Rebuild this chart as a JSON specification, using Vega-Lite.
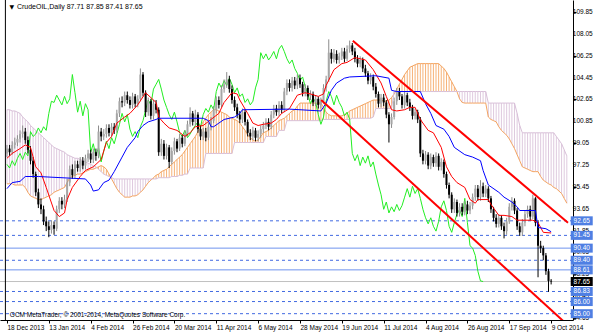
{
"$schema":"https://vega.github.io/schema/vega-lite/v6.json",
"width":573,"height":320,"padding":{"left":0,"top":0,"right":27,"bottom":13},"autosize":{"type":"none"},
"background":"white",
"config":{"view":{"stroke":null},"font":"Liberation Sans","axis":{"labelOverlap":false,"labelSeparation":0,"labelBound":false,"labelFlush":false}},
"datasets":{
"bars":[
{"i":0,"o":98.2,"h":98.9,"l":97.9,"c":98.6},{"i":1,"o":98.6,"h":98.9,"l":98.0,"c":98.3},{"i":2,"o":98.3,"h":99.2,"l":98.1,"c":98.9},{"i":3,"o":98.9,"h":99.5,"l":98.6,"c":99.1},{"i":4,"o":99.1,"h":99.7,"l":98.8,"c":99.4},{"i":5,"o":99.4,"h":100.1,"l":99.1,"c":99.8},{"i":6,"o":99.8,"h":100.5,"l":99.5,"c":100.0},{"i":7,"o":100.0,"h":100.3,"l":99.0,"c":99.3},{"i":8,"o":99.3,"h":99.6,"l":98.2,"c":98.5},{"i":9,"o":98.5,"h":98.8,"l":97.3,"c":97.6},
{"i":10,"o":97.6,"h":97.9,"l":96.2,"c":96.5},{"i":11,"o":96.5,"h":96.7,"l":94.7,"c":95.0},{"i":12,"o":95.0,"h":95.3,"l":93.7,"c":94.0},{"i":13,"o":94.0,"h":94.5,"l":93.2,"c":93.6},{"i":14,"o":93.6,"h":93.9,"l":92.3,"c":92.6},{"i":15,"o":92.6,"h":93.0,"l":91.8,"c":92.2},{"i":16,"o":92.2,"h":92.6,"l":91.3,"c":91.9},{"i":17,"o":91.9,"h":92.7,"l":91.6,"c":92.3},{"i":18,"o":92.3,"h":92.6,"l":91.5,"c":92.0},{"i":19,"o":92.0,"h":93.9,"l":91.8,"c":93.6},
{"i":20,"o":93.6,"h":94.6,"l":93.3,"c":94.3},{"i":21,"o":94.3,"h":94.6,"l":93.6,"c":94.0},{"i":22,"o":94.0,"h":94.8,"l":93.7,"c":94.4},{"i":23,"o":94.4,"h":96.1,"l":94.2,"c":95.8},{"i":24,"o":95.8,"h":97.2,"l":95.5,"c":96.9},{"i":25,"o":96.9,"h":97.3,"l":96.1,"c":96.4},{"i":26,"o":96.4,"h":97.6,"l":96.1,"c":97.3},{"i":27,"o":97.3,"h":97.6,"l":96.7,"c":97.0},{"i":28,"o":97.0,"h":97.9,"l":96.7,"c":97.6},{"i":29,"o":97.6,"h":97.9,"l":96.9,"c":97.2},
{"i":30,"o":97.2,"h":98.1,"l":96.9,"c":97.8},{"i":31,"o":97.8,"h":98.5,"l":97.5,"c":98.2},{"i":32,"o":98.2,"h":98.5,"l":97.4,"c":97.7},{"i":33,"o":97.7,"h":98.6,"l":97.4,"c":98.3},{"i":34,"o":98.3,"h":98.6,"l":97.6,"c":98.0},{"i":35,"o":98.0,"h":100.5,"l":97.8,"c":100.0},{"i":36,"o":100.0,"h":100.3,"l":99.2,"c":99.6},{"i":37,"o":99.6,"h":100.2,"l":99.3,"c":99.8},{"i":38,"o":99.8,"h":100.6,"l":99.5,"c":100.3},{"i":39,"o":100.3,"h":100.6,"l":99.6,"c":99.9},
{"i":40,"o":99.9,"h":100.7,"l":99.6,"c":100.4},{"i":41,"o":100.4,"h":100.7,"l":99.8,"c":100.1},{"i":42,"o":100.1,"h":101.8,"l":99.9,"c":101.5},{"i":43,"o":101.5,"h":102.8,"l":101.2,"c":102.5},{"i":44,"o":102.5,"h":102.9,"l":102.0,"c":102.4},{"i":45,"o":102.4,"h":103.3,"l":102.1,"c":103.0},{"i":46,"o":103.0,"h":103.3,"l":102.3,"c":102.6},{"i":47,"o":102.6,"h":102.9,"l":101.9,"c":102.2},{"i":48,"o":102.2,"h":103.2,"l":101.9,"c":102.9},{"i":49,"o":102.9,"h":103.1,"l":102.0,"c":102.3},
{"i":50,"o":102.3,"h":103.0,"l":102.0,"c":102.7},{"i":51,"o":102.7,"h":105.2,"l":102.5,"c":104.7},{"i":52,"o":104.7,"h":104.9,"l":102.9,"c":103.2},{"i":53,"o":103.2,"h":103.4,"l":101.2,"c":101.6},{"i":54,"o":101.6,"h":102.8,"l":101.3,"c":102.5},{"i":55,"o":102.5,"h":102.7,"l":101.0,"c":101.3},{"i":56,"o":101.3,"h":102.6,"l":101.0,"c":102.3},{"i":57,"o":102.3,"h":102.6,"l":101.5,"c":101.8},{"i":58,"o":101.8,"h":102.0,"l":98.0,"c":98.3},{"i":59,"o":98.3,"h":99.4,"l":98.0,"c":99.0},
{"i":60,"o":99.0,"h":99.3,"l":97.7,"c":98.0},{"i":61,"o":98.0,"h":99.0,"l":97.7,"c":98.7},{"i":62,"o":98.7,"h":98.9,"l":97.0,"c":97.5},{"i":63,"o":97.5,"h":98.7,"l":97.3,"c":98.4},{"i":64,"o":98.4,"h":99.5,"l":98.1,"c":99.2},{"i":65,"o":99.2,"h":99.4,"l":98.3,"c":98.6},{"i":66,"o":98.6,"h":99.8,"l":98.4,"c":99.5},{"i":67,"o":99.5,"h":99.7,"l":98.7,"c":99.0},{"i":68,"o":99.0,"h":100.1,"l":98.8,"c":99.8},{"i":69,"o":99.8,"h":100.9,"l":99.6,"c":100.6},
{"i":70,"o":100.6,"h":102.0,"l":100.4,"c":101.5},{"i":71,"o":101.5,"h":101.7,"l":100.5,"c":100.8},{"i":72,"o":100.8,"h":101.8,"l":100.5,"c":101.4},{"i":73,"o":101.4,"h":101.6,"l":99.9,"c":100.2},{"i":74,"o":100.2,"h":100.5,"l":99.3,"c":99.6},{"i":75,"o":99.6,"h":100.3,"l":99.3,"c":100.0},{"i":76,"o":100.0,"h":100.3,"l":99.2,"c":99.5},{"i":77,"o":99.5,"h":100.7,"l":99.3,"c":100.4},{"i":78,"o":100.4,"h":101.2,"l":100.1,"c":100.9},{"i":79,"o":100.9,"h":102.1,"l":100.7,"c":101.8},
{"i":80,"o":101.8,"h":102.9,"l":101.5,"c":102.6},{"i":81,"o":102.6,"h":102.9,"l":101.9,"c":102.2},{"i":82,"o":102.2,"h":103.8,"l":102.0,"c":103.5},{"i":83,"o":103.5,"h":104.3,"l":103.2,"c":103.9},{"i":84,"o":103.9,"h":104.9,"l":103.6,"c":104.3},{"i":85,"o":104.3,"h":104.6,"l":103.2,"c":103.5},{"i":86,"o":103.5,"h":103.8,"l":102.3,"c":102.6},{"i":87,"o":102.6,"h":102.9,"l":101.7,"c":102.0},{"i":88,"o":102.0,"h":102.3,"l":101.1,"c":101.4},{"i":89,"o":101.4,"h":101.7,"l":100.7,"c":101.0},
{"i":90,"o":101.0,"h":101.9,"l":100.7,"c":101.6},{"i":91,"o":101.6,"h":101.8,"l":100.5,"c":100.8},{"i":92,"o":100.8,"h":101.0,"l":99.6,"c":99.9},{"i":93,"o":99.9,"h":100.2,"l":99.3,"c":99.6},{"i":94,"o":99.6,"h":100.4,"l":99.3,"c":100.1},{"i":95,"o":100.1,"h":100.3,"l":99.2,"c":99.5},{"i":96,"o":99.5,"h":100.1,"l":99.2,"c":99.8},{"i":97,"o":99.8,"h":100.5,"l":99.5,"c":100.2},{"i":98,"o":100.2,"h":100.8,"l":99.9,"c":100.5},{"i":99,"o":100.5,"h":101.1,"l":100.2,"c":100.8},
{"i":100,"o":100.8,"h":101.1,"l":100.1,"c":100.4},{"i":101,"o":100.4,"h":101.7,"l":100.2,"c":101.4},{"i":102,"o":101.4,"h":102.2,"l":101.1,"c":101.9},{"i":103,"o":101.9,"h":102.2,"l":101.3,"c":101.6},{"i":104,"o":101.6,"h":102.5,"l":101.3,"c":102.2},{"i":105,"o":102.2,"h":102.5,"l":101.5,"c":101.8},{"i":106,"o":101.8,"h":103.6,"l":101.6,"c":103.3},{"i":107,"o":103.3,"h":104.3,"l":103.0,"c":104.0},{"i":108,"o":104.0,"h":104.3,"l":103.3,"c":103.6},{"i":109,"o":103.6,"h":104.5,"l":103.3,"c":104.2},
{"i":110,"o":104.2,"h":104.5,"l":103.5,"c":103.8},{"i":111,"o":103.8,"h":104.7,"l":103.5,"c":104.4},{"i":112,"o":104.4,"h":104.7,"l":103.6,"c":103.9},{"i":113,"o":103.9,"h":104.1,"l":102.9,"c":103.2},{"i":114,"o":103.2,"h":103.9,"l":102.9,"c":103.6},{"i":115,"o":103.6,"h":103.8,"l":102.6,"c":102.9},{"i":116,"o":102.9,"h":103.4,"l":102.6,"c":103.1},{"i":117,"o":103.1,"h":103.3,"l":102.1,"c":102.4},{"i":118,"o":102.4,"h":103.0,"l":102.1,"c":102.7},{"i":119,"o":102.7,"h":102.9,"l":101.9,"c":102.2},
{"i":120,"o":102.2,"h":102.8,"l":101.9,"c":102.5},{"i":121,"o":102.5,"h":103.9,"l":102.3,"c":103.6},{"i":122,"o":103.6,"h":104.6,"l":103.3,"c":104.3},{"i":123,"o":104.3,"h":107.6,"l":104.1,"c":106.5},{"i":124,"o":106.5,"h":106.8,"l":105.6,"c":106.0},{"i":125,"o":106.0,"h":106.8,"l":105.7,"c":106.4},{"i":126,"o":106.4,"h":106.7,"l":105.6,"c":105.9},{"i":127,"o":105.9,"h":106.5,"l":105.6,"c":106.2},{"i":128,"o":106.2,"h":106.9,"l":105.9,"c":106.6},{"i":129,"o":106.6,"h":106.9,"l":105.7,"c":106.0},
{"i":130,"o":106.0,"h":107.1,"l":105.8,"c":106.8},{"i":131,"o":106.8,"h":107.5,"l":106.5,"c":107.1},{"i":132,"o":107.1,"h":107.3,"l":106.3,"c":106.6},{"i":133,"o":106.6,"h":106.9,"l":105.7,"c":106.0},{"i":134,"o":106.0,"h":106.3,"l":105.3,"c":105.6},{"i":135,"o":105.6,"h":106.2,"l":105.3,"c":105.9},{"i":136,"o":105.9,"h":106.1,"l":104.9,"c":105.2},{"i":137,"o":105.2,"h":105.5,"l":104.5,"c":104.8},{"i":138,"o":104.8,"h":105.0,"l":103.9,"c":104.2},{"i":139,"o":104.2,"h":104.8,"l":103.9,"c":104.5},
{"i":140,"o":104.5,"h":104.7,"l":103.4,"c":103.7},{"i":141,"o":103.7,"h":104.0,"l":102.8,"c":103.1},{"i":142,"o":103.1,"h":103.3,"l":102.0,"c":102.3},{"i":143,"o":102.3,"h":103.1,"l":102.0,"c":102.8},{"i":144,"o":102.8,"h":103.1,"l":102.1,"c":102.4},{"i":145,"o":102.4,"h":102.6,"l":101.1,"c":101.4},{"i":146,"o":101.4,"h":101.6,"l":99.1,"c":100.6},{"i":147,"o":100.6,"h":101.5,"l":100.3,"c":101.2},{"i":148,"o":101.2,"h":102.8,"l":101.0,"c":102.5},{"i":149,"o":102.5,"h":103.6,"l":102.2,"c":103.3},
{"i":150,"o":103.3,"h":103.6,"l":102.6,"c":102.9},{"i":151,"o":102.9,"h":103.1,"l":101.9,"c":102.2},{"i":152,"o":102.2,"h":103.3,"l":101.9,"c":103.0},{"i":153,"o":103.0,"h":103.2,"l":102.1,"c":102.4},{"i":154,"o":102.4,"h":102.7,"l":101.7,"c":102.0},{"i":155,"o":102.0,"h":102.2,"l":101.0,"c":101.3},{"i":156,"o":101.3,"h":101.9,"l":101.0,"c":101.6},{"i":157,"o":101.6,"h":101.8,"l":100.7,"c":101.0},{"i":158,"o":101.0,"h":101.2,"l":97.9,"c":98.2},{"i":159,"o":98.2,"h":98.5,"l":97.3,"c":97.6},
{"i":160,"o":97.6,"h":98.4,"l":97.3,"c":98.1},{"i":161,"o":98.1,"h":98.3,"l":96.9,"c":97.2},{"i":162,"o":97.2,"h":98.2,"l":96.9,"c":97.9},{"i":163,"o":97.9,"h":98.1,"l":97.1,"c":97.4},{"i":164,"o":97.4,"h":98.3,"l":97.1,"c":98.0},{"i":165,"o":98.0,"h":98.2,"l":96.8,"c":97.1},{"i":166,"o":97.1,"h":97.8,"l":96.8,"c":97.5},{"i":167,"o":97.5,"h":97.7,"l":96.2,"c":96.5},{"i":168,"o":96.5,"h":96.7,"l":95.3,"c":95.6},{"i":169,"o":95.6,"h":95.8,"l":94.5,"c":94.8},
{"i":170,"o":94.8,"h":95.0,"l":93.3,"c":93.6},{"i":171,"o":93.6,"h":94.5,"l":93.3,"c":94.2},{"i":172,"o":94.2,"h":94.4,"l":93.0,"c":93.3},{"i":173,"o":93.3,"h":94.1,"l":93.0,"c":93.8},{"i":174,"o":93.8,"h":94.1,"l":93.1,"c":93.4},{"i":175,"o":93.4,"h":94.3,"l":93.1,"c":94.0},{"i":176,"o":94.0,"h":94.3,"l":93.2,"c":93.5},{"i":177,"o":93.5,"h":94.2,"l":93.2,"c":93.9},{"i":178,"o":93.9,"h":94.9,"l":93.6,"c":94.6},{"i":179,"o":94.6,"h":95.6,"l":94.3,"c":95.3},
{"i":180,"o":95.3,"h":95.6,"l":94.3,"c":94.6},{"i":181,"o":94.6,"h":96.0,"l":94.3,"c":95.5},{"i":182,"o":95.5,"h":95.8,"l":94.6,"c":94.9},{"i":183,"o":94.9,"h":95.6,"l":94.6,"c":95.3},{"i":184,"o":95.3,"h":95.5,"l":94.2,"c":94.5},{"i":185,"o":94.5,"h":94.7,"l":93.3,"c":93.6},{"i":186,"o":93.6,"h":93.8,"l":92.6,"c":92.9},{"i":187,"o":92.9,"h":93.2,"l":92.1,"c":92.4},{"i":188,"o":92.4,"h":93.2,"l":92.1,"c":92.9},{"i":189,"o":92.9,"h":93.1,"l":91.9,"c":92.2},
{"i":190,"o":92.2,"h":92.5,"l":91.2,"c":91.8},{"i":191,"o":91.8,"h":92.9,"l":91.5,"c":92.6},{"i":192,"o":92.6,"h":94.1,"l":92.4,"c":93.8},{"i":193,"o":93.8,"h":94.6,"l":93.5,"c":94.3},{"i":194,"o":94.3,"h":94.5,"l":93.2,"c":93.5},{"i":195,"o":93.5,"h":93.7,"l":91.9,"c":92.2},{"i":196,"o":92.2,"h":92.5,"l":91.4,"c":91.7},{"i":197,"o":91.7,"h":92.8,"l":91.4,"c":92.5},{"i":198,"o":92.5,"h":93.5,"l":92.2,"c":93.2},{"i":199,"o":93.2,"h":93.9,"l":92.9,"c":93.6},
{"i":200,"o":93.6,"h":93.9,"l":92.7,"c":93.0},{"i":201,"o":93.0,"h":94.8,"l":92.8,"c":94.5},{"i":202,"o":94.5,"h":94.6,"l":92.2,"c":92.5},{"i":203,"o":92.5,"h":92.7,"l":88.0,"c":90.6},{"i":204,"o":90.6,"h":91.0,"l":90.0,"c":90.4},{"i":205,"o":90.4,"h":90.6,"l":89.4,"c":89.8},{"i":206,"o":89.8,"h":90.0,"l":88.2,"c":88.5},{"i":207,"o":88.5,"h":88.7,"l":86.8,"c":87.7},{"i":208,"o":87.71,"h":87.85,"l":87.41,"c":87.65}
],
"cloud":[
{"i":0,"a":95.7,"b":101.8},{"i":1,"a":95.7,"b":101.8},{"i":2,"a":95.7,"b":101.7},{"i":3,"a":95.6,"b":101.7},{"i":4,"a":95.6,"b":101.6},{"i":5,"a":95.6,"b":101.5},{"i":6,"a":95.6,"b":101.2},{"i":7,"a":95.4,"b":101.0},{"i":8,"a":95.0,"b":100.8},{"i":9,"a":94.7,"b":100.5},
{"i":10,"a":94.6,"b":100.3},{"i":11,"a":94.5,"b":100.1},{"i":12,"a":94.4,"b":99.9},{"i":13,"a":94.4,"b":99.7},{"i":14,"a":94.5,"b":99.5},{"i":15,"a":94.6,"b":99.3},{"i":16,"a":94.7,"b":99.1},{"i":17,"a":94.8,"b":98.9},{"i":18,"a":95.0,"b":98.7},{"i":19,"a":95.1,"b":98.6},
{"i":20,"a":95.2,"b":98.5},{"i":21,"a":95.3,"b":98.4},{"i":22,"a":95.4,"b":98.3},{"i":23,"a":95.8,"b":98.1},{"i":24,"a":96.2,"b":98.0},{"i":25,"a":96.3,"b":97.9},{"i":26,"a":96.4,"b":97.8},{"i":27,"a":96.5,"b":97.8},{"i":28,"a":96.5,"b":97.7},{"i":29,"a":96.6,"b":97.6},
{"i":30,"a":96.7,"b":97.5},{"i":31,"a":96.8,"b":97.4},{"i":32,"a":96.9,"b":97.3},{"i":33,"a":96.9,"b":97.2},{"i":34,"a":97.0,"b":97.1},{"i":35,"a":97.1,"b":96.9},{"i":36,"a":97.2,"b":96.7},{"i":37,"a":97.1,"b":96.5},{"i":38,"a":96.9,"b":96.4},{"i":39,"a":96.5,"b":96.3},
{"i":40,"a":96.1,"b":96.2},{"i":41,"a":95.7,"b":96.1},{"i":42,"a":95.3,"b":96.1},{"i":43,"a":95.0,"b":96.1},{"i":44,"a":94.8,"b":96.1},{"i":45,"a":94.6,"b":96.1},{"i":46,"a":94.6,"b":96.1},{"i":47,"a":94.6,"b":96.1},{"i":48,"a":94.7,"b":96.1},{"i":49,"a":94.7,"b":96.1},
{"i":50,"a":94.8,"b":96.1},{"i":51,"a":95.0,"b":96.1},{"i":52,"a":95.2,"b":96.1},{"i":53,"a":95.5,"b":96.1},{"i":54,"a":95.8,"b":96.1},{"i":55,"a":96.0,"b":96.1},{"i":56,"a":96.2,"b":96.1},{"i":57,"a":96.4,"b":96.1},{"i":58,"a":96.5,"b":96.2},{"i":59,"a":96.7,"b":96.2},
{"i":60,"a":96.8,"b":96.2},{"i":61,"a":96.9,"b":96.2},{"i":62,"a":97.1,"b":96.2},{"i":63,"a":97.3,"b":96.3},{"i":64,"a":97.5,"b":96.3},{"i":65,"a":97.7,"b":96.3},{"i":66,"a":97.9,"b":96.4},{"i":67,"a":98.1,"b":96.4},{"i":68,"a":98.4,"b":96.5},{"i":69,"a":98.7,"b":96.5},
{"i":70,"a":99.0,"b":97.0},{"i":71,"a":99.3,"b":97.0},{"i":72,"a":99.6,"b":97.0},{"i":73,"a":100.0,"b":97.0},{"i":74,"a":100.4,"b":97.0},{"i":75,"a":100.8,"b":97.0},{"i":76,"a":101.1,"b":98.2},{"i":77,"a":101.4,"b":98.2},{"i":78,"a":101.6,"b":98.2},{"i":79,"a":101.8,"b":98.2},
{"i":80,"a":101.8,"b":98.2},{"i":81,"a":101.7,"b":98.2},{"i":82,"a":101.6,"b":98.2},{"i":83,"a":101.5,"b":98.2},{"i":84,"a":101.4,"b":98.2},{"i":85,"a":101.2,"b":98.2},{"i":86,"a":101.1,"b":98.2},{"i":87,"a":101.0,"b":99.1},{"i":88,"a":100.9,"b":99.1},{"i":89,"a":100.7,"b":99.1},
{"i":90,"a":100.4,"b":99.1},{"i":91,"a":100.1,"b":99.1},{"i":92,"a":99.7,"b":99.1},{"i":93,"a":99.5,"b":99.1},{"i":94,"a":99.3,"b":99.1},{"i":95,"a":99.2,"b":99.1},{"i":96,"a":99.3,"b":99.1},{"i":97,"a":99.6,"b":99.1},{"i":98,"a":99.9,"b":99.1},{"i":99,"a":100.0,"b":99.6},
{"i":100,"a":100.1,"b":99.6},{"i":101,"a":100.3,"b":99.6},{"i":102,"a":100.5,"b":99.6},{"i":103,"a":100.7,"b":99.6},{"i":104,"a":100.9,"b":100.1},{"i":105,"a":101.0,"b":100.1},{"i":106,"a":101.1,"b":100.1},{"i":107,"a":101.3,"b":100.9},{"i":108,"a":101.5,"b":100.9},{"i":109,"a":101.7,"b":100.9},
{"i":110,"a":101.8,"b":100.9},{"i":111,"a":102.1,"b":100.9},{"i":112,"a":102.35,"b":100.9},{"i":113,"a":102.35,"b":100.9},{"i":114,"a":102.35,"b":100.9},{"i":115,"a":102.35,"b":100.9},{"i":116,"a":102.35,"b":100.9},{"i":117,"a":102.35,"b":100.9},{"i":118,"a":102.35,"b":100.9},{"i":119,"a":102.35,"b":100.9},
{"i":120,"a":102.35,"b":100.9},{"i":121,"a":102.0,"b":101.0},{"i":122,"a":101.6,"b":101.0},{"i":123,"a":101.4,"b":101.0},{"i":124,"a":101.3,"b":101.0},{"i":125,"a":101.3,"b":101.0},{"i":126,"a":101.3,"b":101.0},{"i":127,"a":101.3,"b":101.0},{"i":128,"a":101.3,"b":101.0},{"i":129,"a":101.4,"b":101.0},
{"i":130,"a":101.5,"b":101.0},{"i":131,"a":101.7,"b":101.0},{"i":132,"a":101.8,"b":101.1},{"i":133,"a":101.9,"b":101.1},{"i":134,"a":102.0,"b":101.1},{"i":135,"a":102.1,"b":101.1},{"i":136,"a":102.2,"b":101.1},{"i":137,"a":102.3,"b":101.1},{"i":138,"a":102.4,"b":101.1},{"i":139,"a":102.5,"b":101.1},
{"i":140,"a":102.6,"b":101.2},{"i":141,"a":102.6,"b":101.9},{"i":142,"a":102.6,"b":101.9},{"i":143,"a":102.6,"b":101.9},{"i":144,"a":102.5,"b":101.9},{"i":145,"a":102.5,"b":101.9},{"i":146,"a":102.6,"b":101.9},{"i":147,"a":102.8,"b":101.9},{"i":148,"a":103.1,"b":103.3},{"i":149,"a":103.5,"b":103.3},
{"i":150,"a":103.9,"b":103.3},{"i":151,"a":104.3,"b":103.3},{"i":152,"a":104.7,"b":103.3},{"i":153,"a":105.0,"b":103.3},{"i":154,"a":105.3,"b":103.3},{"i":155,"a":105.4,"b":103.3},{"i":156,"a":105.5,"b":103.3},{"i":157,"a":105.6,"b":103.3},{"i":158,"a":105.6,"b":103.3},{"i":159,"a":105.6,"b":103.3},
{"i":160,"a":105.6,"b":103.3},{"i":161,"a":105.6,"b":103.3},{"i":162,"a":105.6,"b":103.3},{"i":163,"a":105.6,"b":103.3},{"i":164,"a":105.6,"b":103.3},{"i":165,"a":105.6,"b":103.3},{"i":166,"a":105.4,"b":103.3},{"i":167,"a":105.2,"b":103.3},{"i":168,"a":104.9,"b":103.3},{"i":169,"a":104.5,"b":103.3},
{"i":170,"a":104.1,"b":103.3},{"i":171,"a":103.7,"b":103.3},{"i":172,"a":103.3,"b":103.3},{"i":173,"a":102.7,"b":103.3},{"i":174,"a":102.4,"b":103.3},{"i":175,"a":102.35,"b":103.3},{"i":176,"a":102.35,"b":103.3},{"i":177,"a":102.35,"b":103.3},{"i":178,"a":102.35,"b":103.3},{"i":179,"a":102.35,"b":103.3},
{"i":180,"a":102.35,"b":103.3},{"i":181,"a":102.35,"b":103.3},{"i":182,"a":102.35,"b":103.3},{"i":183,"a":102.35,"b":103.3},{"i":184,"a":101.2,"b":102.35},{"i":185,"a":101.0,"b":102.35},{"i":186,"a":100.9,"b":102.35},{"i":187,"a":100.8,"b":102.35},{"i":188,"a":100.4,"b":102.35},{"i":189,"a":100.1,"b":102.35},
{"i":190,"a":99.9,"b":102.35},{"i":191,"a":99.7,"b":102.35},{"i":192,"a":99.4,"b":102.35},{"i":193,"a":99.0,"b":102.35},{"i":194,"a":98.6,"b":102.35},{"i":195,"a":98.1,"b":101.5},{"i":196,"a":97.6,"b":100.5},{"i":197,"a":97.1,"b":99.9},{"i":198,"a":97.0,"b":99.9},{"i":199,"a":96.9,"b":99.9},
{"i":200,"a":96.8,"b":99.9},{"i":201,"a":96.7,"b":99.9},{"i":202,"a":96.7,"b":99.9},{"i":203,"a":96.7,"b":99.9},{"i":204,"a":96.3,"b":99.9},{"i":205,"a":96.0,"b":99.9},{"i":206,"a":95.85,"b":99.9},{"i":207,"a":95.7,"b":99.9},{"i":208,"a":95.6,"b":99.9},{"i":209,"a":95.4,"b":99.9},
{"i":210,"a":95.3,"b":99.6},{"i":211,"a":95.1,"b":99.3},{"i":212,"a":94.9,"b":99.0},{"i":213,"a":94.5,"b":98.5},{"i":214,"a":94.1,"b":98.0}
],
"chikou":[
{"i":0,"v":97.3},{"i":1,"v":97.0},{"i":2,"v":97.6},{"i":3,"v":97.2},{"i":4,"v":97.8},{"i":5,"v":98.2},{"i":6,"v":97.7},{"i":7,"v":98.3},{"i":8,"v":98.0},{"i":9,"v":100.0},
{"i":10,"v":99.6},{"i":11,"v":99.8},{"i":12,"v":100.3},{"i":13,"v":99.9},{"i":14,"v":100.4},{"i":15,"v":100.1},{"i":16,"v":101.5},{"i":17,"v":102.5},{"i":18,"v":102.4},{"i":19,"v":103.0},
{"i":20,"v":102.6},{"i":21,"v":102.2},{"i":22,"v":102.9},{"i":23,"v":102.3},{"i":24,"v":102.7},{"i":25,"v":104.7},{"i":26,"v":103.2},{"i":27,"v":101.6},{"i":28,"v":102.5},{"i":29,"v":101.3},
{"i":30,"v":102.3},{"i":31,"v":101.8},{"i":32,"v":98.3},{"i":33,"v":99.0},{"i":34,"v":98.0},{"i":35,"v":98.7},{"i":36,"v":97.5},{"i":37,"v":98.4},{"i":38,"v":99.2},{"i":39,"v":98.6},
{"i":40,"v":99.5},{"i":41,"v":99.0},{"i":42,"v":99.8},{"i":43,"v":100.6},{"i":44,"v":101.5},{"i":45,"v":100.8},{"i":46,"v":101.4},{"i":47,"v":100.2},{"i":48,"v":99.6},{"i":49,"v":100.0},
{"i":50,"v":99.5},{"i":51,"v":100.4},{"i":52,"v":100.9},{"i":53,"v":101.8},{"i":54,"v":102.6},{"i":55,"v":102.2},{"i":56,"v":103.5},{"i":57,"v":103.9},{"i":58,"v":104.3},{"i":59,"v":103.5},
{"i":60,"v":102.6},{"i":61,"v":102.0},{"i":62,"v":101.4},{"i":63,"v":101.0},{"i":64,"v":101.6},{"i":65,"v":100.8},{"i":66,"v":99.9},{"i":67,"v":99.6},{"i":68,"v":100.1},{"i":69,"v":99.5},
{"i":70,"v":99.8},{"i":71,"v":100.2},{"i":72,"v":100.5},{"i":73,"v":100.8},{"i":74,"v":100.4},{"i":75,"v":101.4},{"i":76,"v":101.9},{"i":77,"v":101.6},{"i":78,"v":102.2},{"i":79,"v":101.8},
{"i":80,"v":103.3},{"i":81,"v":104.0},{"i":82,"v":103.6},{"i":83,"v":104.2},{"i":84,"v":103.8},{"i":85,"v":104.4},{"i":86,"v":103.9},{"i":87,"v":103.2},{"i":88,"v":103.6},{"i":89,"v":102.9},
{"i":90,"v":103.1},{"i":91,"v":102.4},{"i":92,"v":102.7},{"i":93,"v":102.2},{"i":94,"v":102.5},{"i":95,"v":103.6},{"i":96,"v":104.3},{"i":97,"v":106.5},{"i":98,"v":106.0},{"i":99,"v":106.4},
{"i":100,"v":105.9},{"i":101,"v":106.2},{"i":102,"v":106.6},{"i":103,"v":106.0},{"i":104,"v":106.8},{"i":105,"v":107.1},{"i":106,"v":106.6},{"i":107,"v":106.0},{"i":108,"v":105.6},{"i":109,"v":105.9},
{"i":110,"v":105.2},{"i":111,"v":104.8},{"i":112,"v":104.2},{"i":113,"v":104.5},{"i":114,"v":103.7},{"i":115,"v":103.1},{"i":116,"v":102.3},{"i":117,"v":102.8},{"i":118,"v":102.4},{"i":119,"v":101.4},
{"i":120,"v":100.6},{"i":121,"v":101.2},{"i":122,"v":102.5},{"i":123,"v":103.3},{"i":124,"v":102.9},{"i":125,"v":102.2},{"i":126,"v":103.0},{"i":127,"v":102.4},{"i":128,"v":102.0},{"i":129,"v":101.3},
{"i":130,"v":101.6},{"i":131,"v":101.0},{"i":132,"v":98.2},{"i":133,"v":97.6},{"i":134,"v":98.1},{"i":135,"v":97.2},{"i":136,"v":97.9},{"i":137,"v":97.4},{"i":138,"v":98.0},{"i":139,"v":97.1},
{"i":140,"v":97.5},{"i":141,"v":96.5},{"i":142,"v":95.6},{"i":143,"v":94.8},{"i":144,"v":93.6},{"i":145,"v":94.2},{"i":146,"v":93.3},{"i":147,"v":93.8},{"i":148,"v":93.4},{"i":149,"v":94.0},
{"i":150,"v":93.5},{"i":151,"v":93.9},{"i":152,"v":94.6},{"i":153,"v":95.3},{"i":154,"v":94.6},{"i":155,"v":95.5},{"i":156,"v":94.9},{"i":157,"v":95.3},{"i":158,"v":94.5},{"i":159,"v":93.6},
{"i":160,"v":92.9},{"i":161,"v":92.4},{"i":162,"v":92.9},{"i":163,"v":92.2},{"i":164,"v":91.8},{"i":165,"v":92.6},{"i":166,"v":93.8},{"i":167,"v":94.3},{"i":168,"v":93.5},{"i":169,"v":92.2},
{"i":170,"v":91.7},{"i":171,"v":92.5},{"i":172,"v":93.2},{"i":173,"v":93.6},{"i":174,"v":93.0},{"i":175,"v":94.5},{"i":176,"v":92.5},{"i":177,"v":90.6},{"i":178,"v":90.4},{"i":179,"v":89.8},
{"i":180,"v":88.5},{"i":181,"v":87.7},{"i":182,"v":87.65}
],
"tenkan":[
{"i":0,"v":97.8},{"i":2,"v":98.2},{"i":5,"v":98.6},{"i":7,"v":98.9},{"i":9,"v":98.7},{"i":11,"v":97.1},{"i":13,"v":96.6},{"i":15,"v":95.4},{"i":18,"v":93.5},{"i":20,"v":93.0},{"i":22,"v":93.3},{"i":23,"v":94.4},{"i":25,"v":95.4},{"i":28,"v":96.3},{"i":30,"v":96.8},{"i":33,"v":97.1},{"i":36,"v":97.7},{"i":38,"v":99.1},{"i":40,"v":99.6},{"i":42,"v":100.7},{"i":45,"v":101.2},{"i":47,"v":101.5},{"i":50,"v":102.2},{"i":53,"v":103.2},{"i":55,"v":102.8},{"i":57,"v":102.4},{"i":58,"v":101.2},{"i":60,"v":100.7},{"i":62,"v":100.3},{"i":65,"v":100.1},{"i":68,"v":99.6},{"i":70,"v":99.9},{"i":72,"v":100.4},{"i":75,"v":100.5},{"i":78,"v":101.0},{"i":81,"v":101.5},{"i":83,"v":102.4},{"i":86,"v":103.2},{"i":88,"v":103.1},{"i":89,"v":102.6},{"i":92,"v":101.5},{"i":94,"v":100.7},{"i":96,"v":100.5},{"i":98,"v":100.6},{"i":101,"v":100.7},{"i":103,"v":101.0},{"i":105,"v":101.5},{"i":108,"v":101.9},{"i":111,"v":103.0},{"i":114,"v":103.2},{"i":116,"v":103.1},{"i":119,"v":102.9},{"i":121,"v":103.1},{"i":122,"v":103.8},{"i":125,"v":105.1},{"i":128,"v":105.6},{"i":130,"v":105.7},{"i":133,"v":106.1},{"i":135,"v":106.0},{"i":137,"v":105.9},{"i":140,"v":105.1},{"i":143,"v":104.0},{"i":145,"v":102.9},{"i":147,"v":101.8},{"i":149,"v":101.7},{"i":152,"v":101.8},{"i":154,"v":102.0},{"i":156,"v":102.0},{"i":158,"v":101.0},{"i":161,"v":100.1},{"i":163,"v":99.9},{"i":166,"v":98.7},{"i":168,"v":97.1},{"i":170,"v":96.3},{"i":172,"v":95.8},{"i":175,"v":95.4},{"i":177,"v":94.4},{"i":179,"v":94.1},{"i":180,"v":94.4},{"i":184,"v":94.4},{"i":185,"v":94.0},{"i":188,"v":93.1},{"i":190,"v":93.1},{"i":193,"v":93.0},{"i":195,"v":92.7},{"i":201,"v":92.7},{"i":203,"v":92.5},{"i":205,"v":91.7},{"i":208,"v":91.65}
],
"kijun":[
{"i":0,"v":95.3},{"i":2,"v":95.8},{"i":5,"v":95.9},{"i":7,"v":96.3},{"i":12,"v":96.3},{"i":30,"v":96.1},{"i":32,"v":95.6},{"i":33,"v":95.1},{"i":35,"v":95.2},{"i":37,"v":95.8},{"i":39,"v":96.0},{"i":41,"v":96.7},{"i":44,"v":97.9},{"i":46,"v":98.7},{"i":49,"v":99.5},{"i":50,"v":100.0},{"i":52,"v":100.5},{"i":54,"v":100.8},{"i":57,"v":101.0},{"i":58,"v":101.1},{"i":75,"v":101.1},{"i":77,"v":100.9},{"i":78,"v":100.4},{"i":79,"v":100.4},{"i":81,"v":100.7},{"i":83,"v":101.0},{"i":87,"v":101.2},{"i":89,"v":101.5},{"i":90,"v":101.8},{"i":108,"v":101.85},{"i":120,"v":101.7},{"i":122,"v":102.35},{"i":124,"v":103.4},{"i":126,"v":104.0},{"i":129,"v":104.4},{"i":131,"v":104.5},{"i":141,"v":104.6},{"i":146,"v":104.4},{"i":147,"v":103.4},{"i":149,"v":103.3},{"i":158,"v":103.3},{"i":160,"v":102.3},{"i":162,"v":101.5},{"i":164,"v":100.5},{"i":167,"v":100.2},{"i":169,"v":99.6},{"i":171,"v":98.7},{"i":175,"v":98.1},{"i":178,"v":97.9},{"i":181,"v":97.6},{"i":182,"v":96.8},{"i":184,"v":95.6},{"i":188,"v":95.0},{"i":190,"v":94.6},{"i":193,"v":94.2},{"i":195,"v":93.8},{"i":196,"v":93.5},{"i":202,"v":93.5},{"i":203,"v":92.1},{"i":206,"v":92.0},{"i":208,"v":91.75}
],
"trend":[
{"g":"upper","i":132.2,"p":107.49},{"g":"upper","i":214.45,"p":92.5},
{"g":"lower","i":120.1,"p":102.6},{"g":"lower","i":214.45,"p":84.04}
],
"yticks":[{"v":109.85},{"v":108.05},{"v":106.25},{"v":104.45},{"v":102.65},{"v":100.85},{"v":99.05},{"v":97.25},{"v":95.45},{"v":93.65},{"v":91.85},{"v":90.05},{"v":88.25},{"v":86.45},{"v":84.65}],
"dashlv":[{"v":92.65},{"v":91.45},{"v":89.40},{"v":86.83},{"v":86.00},{"v":85.00}],
"solidlv":[{"v":90.40},{"v":88.61}],
"lv":[{"v":92.65},{"v":91.45},{"v":90.40},{"v":89.40},{"v":88.61},{"v":86.83},{"v":86.00},{"v":85.00}],
"cur":[{"v":87.65}]
},
"layer":[
{"data":{"name":"cloud"},"mark":{"type":"rule","strokeWidth":1,"clip":true,"opacity":0.85},
 "encoding":{
  "x":{"field":"i","type":"quantitative","title":null,"scale":{"domain":[-0.75,214.45],"nice":false,"zero":false},
   "axis":{"orient":"bottom","title":null,"values":[0,16,32,48,64,80,96,112,128,144,160,176,192,208],
    "labelExpr":"['18 Dec 2013','13 Jan 2014','4 Feb 2014','26 Feb 2014','20 Mar 2014','11 Apr 2014','6 May 2014','28 May 2014','19 Jun 2014','11 Jul 2014','4 Aug 2014','26 Aug 2014','17 Sep 2014','9 Oct 2014'][datum.value/16]",
    "labelAlign":"left","labelBaseline":"top","labelPadding":1,"labelDx":1,"tickSize":3,"tickColor":"black","domainColor":"black","labelFont":"Liberation Sans","labelFontSize":6.5,"labelColor":"black","grid":false,"labelOverlap":false,"labelFlush":false,"labelBound":false}},
  "y":{"field":"a","type":"quantitative","title":null,"scale":{"domain":[84.48,110.84],"nice":false,"zero":false},
   "axis":{"orient":"right","title":null,"values":[109.85,108.05,106.25,104.45,102.65,100.85,99.05,97.25,95.45,93.65,91.85,90.05,88.25,86.45,84.65],"labels":false,"tickSize":3,"domainColor":"black","tickColor":"black","grid":false}},
  "y2":{"field":"b"},
  "color":{"condition":{"test":"datum.a >= datum.b","value":"#f4a460"},"value":"#d8bfd8"}}},
{"data":{"name":"cloud"},"mark":{"type":"line","color":"#f4a460","strokeWidth":1,"clip":true},
 "encoding":{"x":{"field":"i","type":"quantitative"},"y":{"field":"a","type":"quantitative"}}},
{"data":{"name":"cloud"},"mark":{"type":"line","color":"#d8bfd8","strokeWidth":1,"clip":true},
 "encoding":{"x":{"field":"i","type":"quantitative"},"y":{"field":"b","type":"quantitative"}}},
{"data":{"name":"dashlv"},"mark":{"type":"rule","color":"#4169e1","strokeWidth":1,"strokeDash":[3,3]},
 "encoding":{"y":{"field":"v","type":"quantitative"}}},
{"data":{"name":"solidlv"},"mark":{"type":"rule","color":"#6f93ee","strokeWidth":1},
 "encoding":{"y":{"field":"v","type":"quantitative"}}},
{"data":{"name":"cur"},"mark":{"type":"rule","color":"#c0c0c0","strokeWidth":1},
 "encoding":{"y":{"field":"v","type":"quantitative"}}},
{"data":{"name":"chikou"},"mark":{"type":"line","color":"#22ee22","strokeWidth":1,"clip":true},
 "encoding":{"x":{"field":"i","type":"quantitative"},"y":{"field":"v","type":"quantitative"}}},
{"data":{"name":"bars"},"mark":{"type":"rule","strokeWidth":1,"clip":true},
 "encoding":{"x":{"field":"i","type":"quantitative"},"y":{"field":"l","type":"quantitative"},"y2":{"field":"h"},
  "color":{"condition":{"test":"datum.c >= datum.o","value":"#8c8c8c"},"value":"#000000"}}},
{"data":{"name":"bars"},"mark":{"type":"bar","size":2,"clip":true},
 "encoding":{"x":{"field":"i","type":"quantitative"},"y":{"field":"o","type":"quantitative"},"y2":{"field":"c"},
  "color":{"condition":{"test":"datum.c >= datum.o","value":"#a6a6a6"},"value":"#000000"}}},
{"data":{"name":"tenkan"},"mark":{"type":"line","color":"#ff0000","strokeWidth":1,"clip":true},
 "encoding":{"x":{"field":"i","type":"quantitative"},"y":{"field":"v","type":"quantitative"}}},
{"data":{"name":"kijun"},"mark":{"type":"line","color":"#0000ff","strokeWidth":1,"clip":true},
 "encoding":{"x":{"field":"i","type":"quantitative"},"y":{"field":"v","type":"quantitative"}}},
{"data":{"name":"trend"},"mark":{"type":"line","color":"#ff0000","strokeWidth":2,"clip":true},
 "encoding":{"x":{"field":"i","type":"quantitative"},"y":{"field":"p","type":"quantitative"},"detail":{"field":"g"}}},
{"data":{"values":[{}]},"mark":{"type":"rule","color":"black","strokeWidth":1},
 "encoding":{"x":{"datum":-0.6,"type":"quantitative"}}},
{"data":{"name":"yticks"},"mark":{"type":"text","color":"black","fontSize":6.5,"font":"Liberation Sans","align":"left","baseline":"middle"},
 "encoding":{"x":{"datum":216.3,"type":"quantitative"},"y":{"field":"v","type":"quantitative"},"text":{"field":"v","type":"quantitative","format":".2f"}}},
{"data":{"name":"lv"},"mark":{"type":"tick","orient":"horizontal","size":22,"thickness":9,"color":"#4f7fe3","opacity":1},
 "encoding":{"x":{"datum":219.7,"type":"quantitative"},"y":{"field":"v","type":"quantitative"}}},
{"data":{"name":"cur"},"mark":{"type":"tick","orient":"horizontal","size":22,"thickness":9,"color":"#000000","opacity":1},
 "encoding":{"x":{"datum":219.7,"type":"quantitative"},"y":{"field":"v","type":"quantitative"}}},
{"data":{"name":"lv"},"mark":{"type":"text","color":"white","fontSize":6.5,"font":"Liberation Sans","align":"center","baseline":"middle"},
 "encoding":{"x":{"datum":219.7,"type":"quantitative"},"y":{"field":"v","type":"quantitative"},"text":{"field":"v","type":"quantitative","format":".2f"}}},
{"data":{"name":"cur"},"mark":{"type":"text","color":"white","fontSize":6.5,"font":"Liberation Sans","align":"center","baseline":"middle"},
 "encoding":{"x":{"datum":219.7,"type":"quantitative"},"y":{"field":"v","type":"quantitative"},"text":{"field":"v","type":"quantitative","format":".2f"}}},
{"data":{"values":[{"t":"▼"}]},"mark":{"type":"text","color":"black","fontSize":6,"font":"DejaVu Sans","align":"center","baseline":"middle"},
 "encoding":{"x":{"datum":1.9,"type":"quantitative"},"y":{"datum":110.26,"type":"quantitative"},"text":{"field":"t"}}},
{"data":{"values":[{"t":"CrudeOIL,Daily  87.71 87.85 87.41 87.65"}]},"mark":{"type":"text","color":"black","fontSize":7,"font":"Liberation Sans","align":"left","baseline":"middle"},
 "encoding":{"x":{"datum":3.8,"type":"quantitative"},"y":{"datum":110.26,"type":"quantitative"},"text":{"field":"t"}}},
{"data":{"values":[{"t":"GCM MetaTrader, © 2001-2014, MetaQuotes Software Corp."}]},"mark":{"type":"text","color":"black","fontSize":6.5,"font":"Liberation Sans","align":"left","baseline":"middle"},
 "encoding":{"x":{"datum":1.1,"type":"quantitative"},"y":{"datum":84.89,"type":"quantitative"},"text":{"field":"t"}}}
]
}
